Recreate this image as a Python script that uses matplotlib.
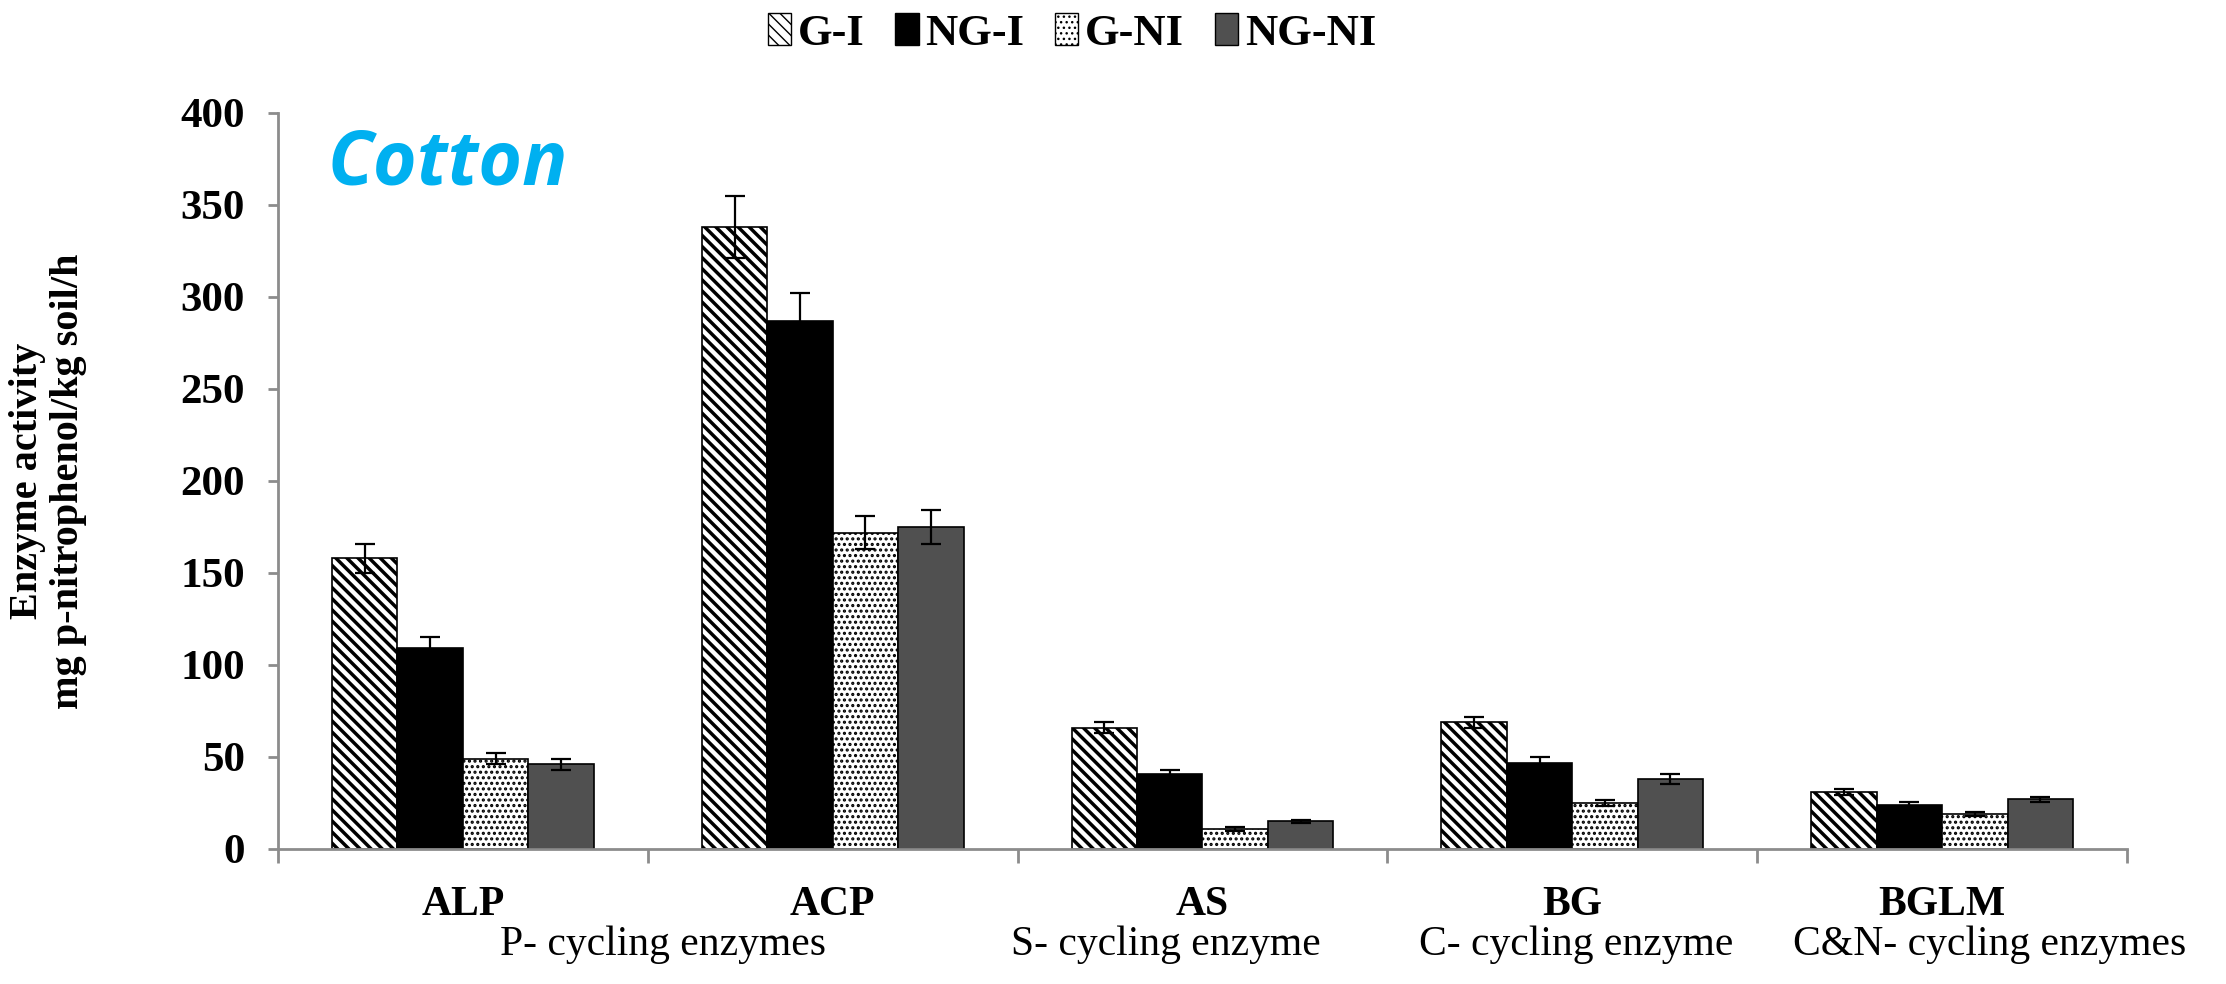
import numpy as np
import matplotlib
matplotlib.use("Agg")
import matplotlib.pyplot as plt
from matplotlib.patches import Patch

enzymes = ["ALP", "ACP", "AS", "BG", "BGLM"]
treatments = ["G-I", "NG-I", "G-NI", "NG-NI"]
g_i = [158, 338, 66, 69, 31]
ng_i = [109, 287, 41, 47, 24]
g_ni = [49, 172, 11, 25, 19]
ng_ni = [46, 175, 15, 38, 27]
g_i_err = [8, 17, 3, 3, 1.5]
ng_i_err = [6, 15, 2, 3, 1.5]
g_ni_err = [3, 9, 1, 1.5, 1]
ng_ni_err = [3, 9, 1, 2.5, 1.5]
groups = ["P- cycling enzymes", "S- cycling enzyme", "C- cycling enzyme", "C&N- cycling enzymes"]
group_pos = [0.54, 1.90, 3.01, 4.13]

plt.rcParams["font.family"] = "Liberation Serif"

fig = plt.figure(figsize=(22.26, 9.84), dpi=100)
ax = fig.add_axes([0.1249, 0.1372, 0.8306, 0.748])

x = np.arange(len(enzymes))
w = 0.177
series = [g_i, ng_i, g_ni, ng_ni]
errs = [g_i_err, ng_i_err, g_ni_err, ng_ni_err]
faces = ["white", "black", "white", "#505050"]
hatches = ["\\\\\\", None, "...", None]
hlw = [2.5, 1.0, 1.5, 1.0]

for i in range(4):
    plt.rcParams["hatch.linewidth"] = hlw[i]
    ax.bar(x + (i - 1.5) * w, series[i], w, color=faces[i], edgecolor="black",
           hatch=hatches[i], linewidth=1.2, yerr=errs[i],
           error_kw=dict(ecolor="black", elinewidth=1.6, capsize=7, capthick=1.6),
           label=treatments[i])

ax.set_xlim(-0.5, 4.5)
ax.set_ylim(0, 400)
ax.set_yticks(range(0, 401, 50))
ax.set_xticks(x)
ax.set_xticklabels(enzymes)
ax.set_xticks(np.arange(-0.5, 5, 1), minor=True)
for s in ["top", "right"]:
    ax.spines[s].set_visible(False)
for s in ["left", "bottom"]:
    ax.spines[s].set_color("#8c8c8c")
    ax.spines[s].set_linewidth(2)
ax.tick_params(axis="y", length=7, width=2, color="#8c8c8c", labelsize=31, pad=17)
ax.tick_params(axis="x", which="major", length=0, labelsize=30, pad=27)
ax.tick_params(axis="x", which="minor", length=10, width=2, color="#8c8c8c")
for lab in ax.get_xticklabels() + ax.get_yticklabels():
    lab.set_fontweight("bold")

fig.text(0.0215, 0.511, "Enzyme activity\nmg p-nitrophenol/kg soil/h", fontsize=29,
         fontweight="bold", rotation=90, ha="center", va="center", linespacing=1.15)

for g, p in zip(groups, group_pos):
    ax.text(p, -0.144, g, transform=ax.get_xaxis_transform(), ha="center",
            va="baseline", fontsize=30)

fig.text(0.147, 0.832, "Cotton", fontsize=54, fontweight="bold", style="italic",
         color="#00b0f0", family="Open Sans", va="center")

handles = [Patch(facecolor=faces[i], edgecolor="black", hatch=hatches[i], label=treatments[i])
           for i in range(4)]
fig.legend(handles=handles, loc="center", bbox_to_anchor=(0.4816, 0.966), ncol=4,
           frameon=False, prop=dict(size=32, weight="bold"), handlelength=0.52,
           handleheight=0.73, handletextpad=0.15, columnspacing=0.7, borderpad=0.1)

fig.savefig("out.png", dpi=100)
